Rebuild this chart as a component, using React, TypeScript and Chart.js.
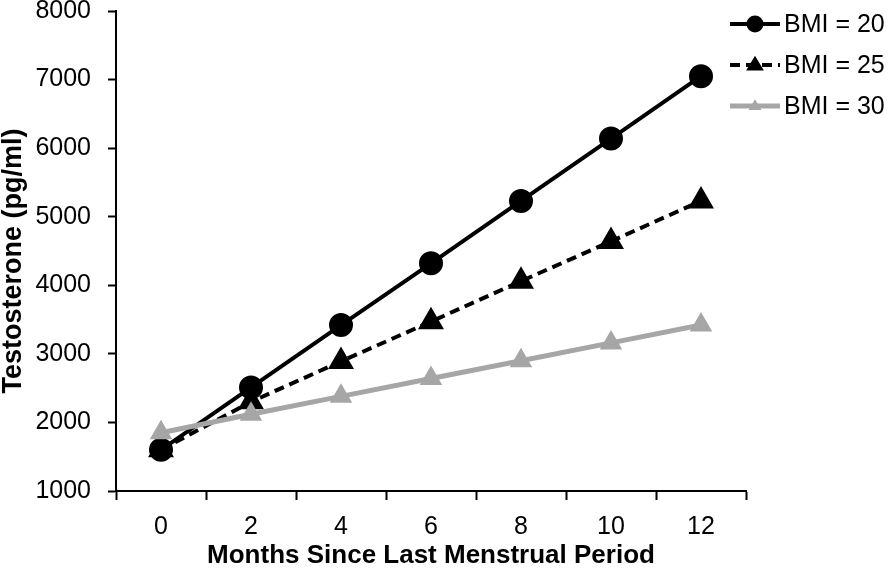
import React, { useEffect, useRef } from "react";
import { Chart, registerables } from "chart.js";

Chart.register(...registerables);

const months = ["0", "2", "4", "6", "8", "10", "12"];
const bmi20 = [1600, 2510, 3420, 4320, 5230, 6140, 7050];
const bmi25 = [1600, 2300, 2890, 3470, 4060, 4640, 5230];
const bmi30 = [1850, 2120, 2380, 2640, 2900, 3160, 3420];
const seriesLabels = ["BMI = 20", "BMI = 25", "BMI = 30"];
const yTitle = "Testosterone (pg/ml)";
const xTitle = "Months Since Last Menstrual Period";

const FONT = "'Liberation Sans', Arial, Helvetica, sans-serif";

const legendPlugin = {
  id: "lineLegend",
  afterDraw(chart: any) {
    const ctx = chart.ctx;
    const area = chart.chartArea;
    const x0 = area.right - 16;
    const x1 = area.right + 34;
    const xm = (x0 + x1) / 2;
    ctx.save();
    chart.data.datasets.forEach((ds: any, i: number) => {
      const y = 24 + i * 41;
      ctx.strokeStyle = ds.borderColor;
      ctx.lineWidth = ds.borderWidth;
      ctx.setLineDash(ds.borderDash || []);
      ctx.beginPath();
      ctx.moveTo(x0, y);
      ctx.lineTo(x1, y);
      ctx.stroke();
      ctx.setLineDash([]);
      ctx.fillStyle = ds.pointBackgroundColor;
      const r = ds.pointRadius * 0.85;
      ctx.beginPath();
      if (ds.pointStyle === "circle") {
        ctx.arc(xm, y, r, 0, Math.PI * 2);
      } else {
        ctx.moveTo(xm, y - r);
        ctx.lineTo(xm + r * 0.95, y + r * 0.6);
        ctx.lineTo(xm - r * 0.95, y + r * 0.6);
        ctx.closePath();
      }
      ctx.fill();
      ctx.fillStyle = "#000";
      ctx.font = `25px ${FONT}`;
      ctx.textBaseline = "middle";
      ctx.textAlign = "left";
      ctx.fillText(ds.label, x1 + 4, y + 1);
    });
    // y axis title
    ctx.translate(14, (area.top + area.bottom) / 2 + 10);
    ctx.rotate(-Math.PI / 2);
    ctx.font = `bold 27px ${FONT}`;
    ctx.textAlign = "center";
    ctx.textBaseline = "middle";
    ctx.fillStyle = "#000";
    ctx.fillText(yTitle, 0, 0);
    ctx.restore();
  },
};

export default function App() {
  const ref = useRef<HTMLCanvasElement>(null);
  useEffect(() => {
    if (!ref.current) return;
    const chart = new Chart(ref.current, {
      type: "line",
      data: {
        labels: months,
        datasets: [
          {
            label: seriesLabels[0],
            data: bmi20,
            borderColor: "#000",
            backgroundColor: "#000",
            pointBackgroundColor: "#000",
            pointBorderColor: "#000",
            borderWidth: 4,
            pointStyle: "circle",
            pointRadius: 10,
            order: 3,
          },
          {
            label: seriesLabels[1],
            data: bmi25,
            borderColor: "#000",
            backgroundColor: "#000",
            pointBackgroundColor: "#000",
            pointBorderColor: "#000",
            borderWidth: 4,
            borderDash: [10, 6],
            pointStyle: "triangle",
            pointRadius: 11,
            order: 2,
          },
          {
            label: seriesLabels[2],
            data: bmi30,
            borderColor: "#a6a6a6",
            backgroundColor: "#a6a6a6",
            pointBackgroundColor: "#a6a6a6",
            pointBorderColor: "#a6a6a6",
            borderWidth: 5,
            pointStyle: "triangle",
            pointRadius: 8,
            order: 1,
          },
        ] as any,
      },
      options: {
        animation: false,
        responsive: false,
        layout: { autoPadding: false, padding: { left: 0, right: 144, top: 11, bottom: 0 } },
        plugins: { legend: { display: false }, tooltip: { enabled: false } },
        scales: {
          x: {
            type: "category",
            offset: true,
            grid: {
              offset: true,
              drawOnChartArea: false,
              drawTicks: true,
              tickLength: 9,
              tickWidth: 2,
              tickColor: "#000",
            },
            border: { color: "#000", width: 2 },
            ticks: { color: "#000", font: { family: FONT, size: 25 }, padding: 12 },
            title: {
              display: true,
              text: xTitle,
              color: "#000",
              font: { family: FONT, size: 26, weight: "bold", lineHeight: 1.0 },
              padding: { top: 0, bottom: 0 },
            },
            afterFit: (s: any) => {
              s.height = 78;
              s.paddingLeft = 0;
              s.paddingRight = 0;
            },
          },
          y: {
            min: 1000,
            max: 8000,
            ticks: {
              stepSize: 1000,
              color: "#000",
              font: { family: FONT, size: 25, lineHeight: 1.0 },
              padding: 17,
              callback: (v: any) => String(v),
            },
            grid: {
              drawOnChartArea: false,
              drawTicks: true,
              tickLength: 8,
              tickWidth: 2,
              tickColor: "#000",
            },
            border: { color: "#000", width: 2 },
            title: { display: false, text: yTitle },
            afterFit: (s: any) => {
              s.width = 116;
              s.paddingTop = 0;
              s.paddingBottom = 0;
            },
          },
        },
      } as any,
      plugins: [legendPlugin],
    });
    return () => chart.destroy();
  }, []);
  return (
    <div style={{ position: "fixed", left: 0, top: 0, width: 890, height: 569, background: "#fff" }}>
      <canvas ref={ref} width={890} height={569} />
    </div>
  );
}
